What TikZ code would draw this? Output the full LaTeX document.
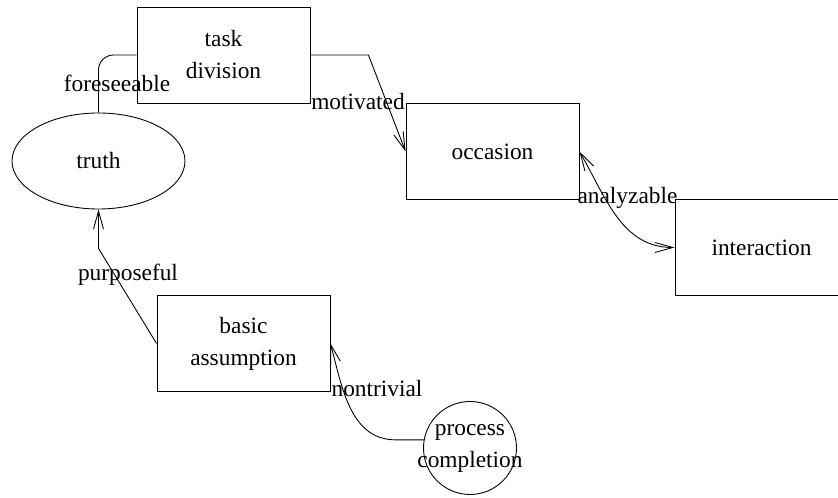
\documentclass[tikz,border=0pt]{standalone}
\usepackage{fontspec}
\setmainfont{Liberation Serif}
\usetikzlibrary{arrows.meta,shapes}

\begin{document}
\begin{tikzpicture}[
  font=\rmfamily\fontsize{13.3}{18.2}\selectfont,
  line width=0.5pt,
  >={Straight Barb[length=3.6mm,width=2mm]},
  box/.style={draw, rectangle, minimum width=3.46cm, minimum height=1.92cm, inner sep=0pt, align=center}]
\useasboundingbox (0,0) rectangle (16.76,9.96);

% Concepts
\node[box] (task) at (4.47,8.86) {task\\division};
\node[draw, ellipse, minimum width=3.46cm, minimum height=1.92cm, inner sep=0pt] (truth) at (1.97,6.74) {truth};
\node[box] (occasion) at (9.85,6.93) {occasion};
\node[box] (interaction) at (15.23,5.01) {interaction};
\node[box] (basic) at (4.87,3.09) {basic\\assumption};
\node[draw, circle, minimum size=1.86cm, inner sep=0pt, align=center] (completion) at (9.40,1.00)
  {\makebox[0pt]{process}\\\makebox[0pt]{completion}};

% Relations
\draw[rounded corners=0.3cm] (truth.north) |- (task.west);
\node (foreseeable) at (2.34,8.30) {foreseeable};

\draw[->] (task.east) -- ++(1.16,0) -- (occasion.west);
\node (motivated) at (7.16,7.92) {motivated};

\draw[<->] (occasion.east) to[out=-60, in=180] (interaction.west);
\node (analyzable) at (12.55,6.00) {analyzable};

\draw[->] (basic.west) -- ([yshift=-0.78cm]truth.south) -- (truth.south);
\node (purposeful) at (2.56,4.46) {purposeful};

\draw[->] (completion.170) -- ++(-0.56,0) to[out=180, in=-75] (basic.east);
\node (nontrivial) at (7.54,2.18) {nontrivial};
\end{tikzpicture}
\end{document}
